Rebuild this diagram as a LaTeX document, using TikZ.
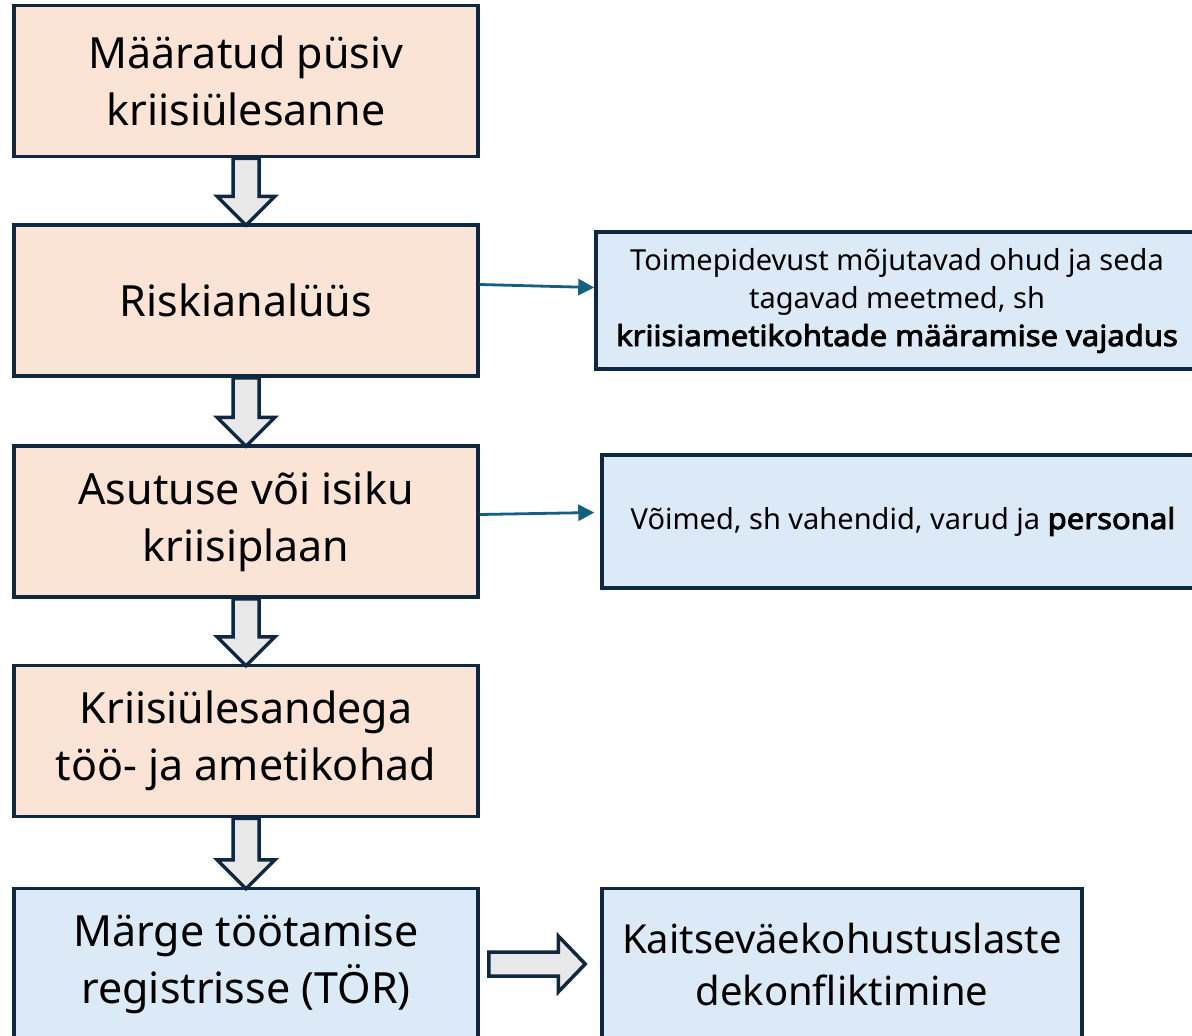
\documentclass[tikz,border=0pt]{standalone}
\usepackage{fontspec}
\setmainfont{Noto Sans}[BoldFont={Noto Sans},BoldFeatures={FakeBold=3,FakeStretch=1.07}]
\usetikzlibrary{arrows.meta,calc}

\definecolor{peach}{HTML}{FBE3D6}
\definecolor{paleblue}{HTML}{DCEAF7}
\definecolor{edgeblue}{HTML}{0E2841}
\definecolor{linkblue}{HTML}{156082}
\definecolor{arrowgray}{HTML}{E8E8E8}

\begin{document}
\begin{tikzpicture}[x=1pt,y=-1pt,
    stage/.style={draw=edgeblue,line width=3.5pt,fill=peach,minimum width=464pt,
      minimum height=151pt,inner sep=0pt,align=center,font=\fontsize{43}{57}\selectfont},
    regbox/.style={stage,fill=paleblue},
    notebox/.style={draw=edgeblue,line width=3.5pt,fill=paleblue,minimum width=602pt,
      inner sep=0pt,align=center,font=\fontsize{29}{38}\selectfont},
    link/.style={draw=linkblue,line width=2.8pt,-{Triangle[length=16pt,width=16pt]}},
    blockarrow/.style={draw=edgeblue,line width=3.5pt,fill=arrowgray,miter limit=4}]
    \useasboundingbox (0,0) rectangle (1192,1036);

    % left column
    \node[stage] (task) at (246,81) {Määratud püsiv\\kriisiülesanne};
    \node[stage] (risk) at (246,300.5) {Riskianalüüs};
    \node[stage] (plan) at (246,521.5) {Asutuse või isiku\\kriisiplaan};
    \node[stage] (posts) at (246,741) {Kriisiülesandega\\töö- ja ametikohad};
    \node[regbox] (reg) at (246,964) {Märge töötamise\\registrisse (TÖR)};

    % right column
    \node[notebox,minimum height=137pt] (threats) at (897,300.5)
      {Toimepidevust mõjutavad ohud ja seda\\tagavad meetmed, sh\\
       \textbf{kriisiametikohtade määramise vajadus}};
    \node[notebox,minimum height=133pt] (means) at (903,521.5)
      {Võimed, sh vahendid, varud ja \textbf{personal}};
    \node[regbox,minimum width=480pt,font=\fontsize{40}{52}\selectfont] (conflict) at (842,964)
      {Kaitseväekohustuslaste\\dekonfliktimine};

    % block arrows
    \foreach \a/\b in {task/risk, risk/plan, plan/posts, posts/reg}
    {
      \draw[blockarrow] ($(\a.south)+(-13,0)$) -- ($(\b.north)+(-13,-27)$)
        -- ($(\b.north)+(-29,-27)$) -- ($(\b.north)+(0,2)$) -- ($(\b.north)+(29,-27)$)
        -- ($(\b.north)+(13,-27)$) -- ($(\a.south)+(13,0)$) -- cycle;
    }
    \draw[blockarrow] ($(reg.east)+(9,-12)$) -- ($(conflict.west)+(-42,-12)$)
      -- ($(conflict.west)+(-42,-28)$) -- ($(conflict.west)+(-15,0)$)
      -- ($(conflict.west)+(-42,28)$) -- ($(conflict.west)+(-42,12)$)
      -- ($(reg.east)+(9,12)$) -- cycle;

    % thin links
    \draw[link] ($(risk.east)+(0,-16)$) -- ($(threats.west)+(0,-13)$);
    \draw[link] ($(plan.east)+(0,-7)$) -- ($(means.west)+(-6,-9)$);
  \end{tikzpicture}
\end{document}
